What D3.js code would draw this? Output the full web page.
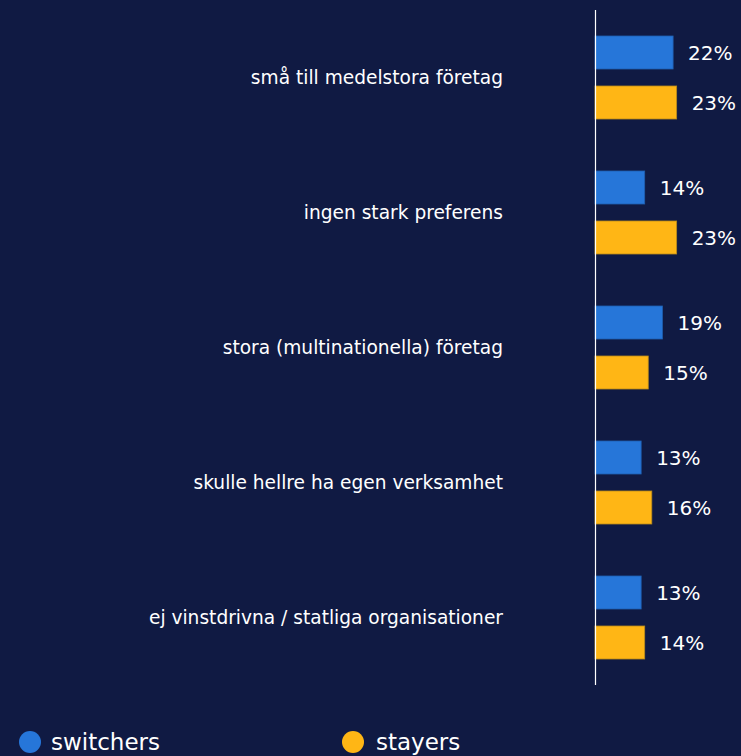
<!DOCTYPE html>
<html>
<head>
<meta charset="utf-8">
<script src="https://cdn.jsdelivr.net/npm/d3@7"></script>
<style>
  html, body { margin: 0; padding: 0; background: #101a43; }
  svg { display: block; }
</style>
</head>
<body>
<div id="chart"></div>
<script>
const categories = [
  'små till medelstora företag',
  'ingen stark preferens',
  'stora (multinationella) företag',
  'skulle hellre ha egen verksamhet',
  'ej vinstdrivna / statliga organisationer'
];
const series = ['switchers', 'stayers'];
const switchers = [22, 14, 19, 13, 13];
const stayers = [23, 23, 15, 16, 14];

const colors = { switchers: '#2676d9', stayers: '#ffb615' };
const strokes = { switchers: '#1f5fb0', stayers: '#b98a1a' };

const width = 741;
const height = 756;
const fontFamily = 'Tahoma, "DejaVu Sans", Verdana, sans-serif';

const rows = categories.map((name, i) => ({
  name,
  values: [
    { key: 'switchers', value: switchers[i] },
    { key: 'stayers', value: stayers[i] }
  ]
}));

const svg = d3.select('#chart')
  .append('svg')
  .attr('width', width)
  .attr('height', height);

svg.append('rect')
  .attr('width', width)
  .attr('height', height)
  .attr('fill', '#101a43');

const axisX = 595;

const x = d3.scaleLinear()
  .domain([0, 10])
  .range([axisX, axisX + 35.5]);

const y0 = d3.scaleBand()
  .domain(categories)
  .range([10, 685]);

const y1 = d3.scaleBand()
  .domain(series)
  .range([26, 109])
  .paddingInner(0.34);

const group = svg.selectAll('g.row')
  .data(rows)
  .enter()
  .append('g')
  .attr('class', 'row')
  .attr('transform', d => `translate(0,${y0(d.name)})`);

group.selectAll('rect')
  .data(d => d.values)
  .enter()
  .append('rect')
  .attr('x', x(0))
  .attr('y', d => y1(d.key))
  .attr('width', d => x(d.value) - x(0))
  .attr('height', y1.bandwidth())
  .attr('fill', d => colors[d.key])
  .attr('stroke', d => strokes[d.key])
  .attr('stroke-width', 0.8);

group.selectAll('text.value')
  .data(d => d.values)
  .enter()
  .append('text')
  .attr('class', 'value')
  .attr('x', d => x(d.value) + 15)
  .attr('y', d => y1(d.key) + y1.bandwidth() / 2)
  .attr('dy', '0.36em')
  .attr('fill', '#ffffff')
  .style('font-family', fontFamily)
  .style('font-size', '20px')
  .text(d => `${d.value}%`);

group.append('text')
  .attr('class', 'label')
  .attr('x', 503)
  .attr('y', y0.bandwidth() / 2)
  .attr('dy', '0.36em')
  .attr('text-anchor', 'end')
  .attr('fill', '#ffffff')
  .style('font-family', fontFamily)
  .style('font-size', '18.6px')
  .text(d => d.name);

// axis line
svg.append('line')
  .attr('x1', axisX + 0.5)
  .attr('x2', axisX + 0.5)
  .attr('y1', 10)
  .attr('y2', 685)
  .attr('stroke', '#ffffff')
  .attr('stroke-width', 1.2);

// legend
const legendX = [30, 353];
const legend = svg.append('g')
  .selectAll('g')
  .data(series)
  .enter()
  .append('g')
  .attr('transform', (d, i) => `translate(${legendX[i]},742)`);

legend.append('circle')
  .attr('r', 11)
  .attr('fill', d => colors[d]);

legend.append('text')
  .attr('x', (d, i) => [21, 23][i])
  .attr('y', 0)
  .attr('dy', '0.36em')
  .attr('fill', '#ffffff')
  .style('font-family', fontFamily)
  .style('font-size', '23px')
  .text(d => d);
</script>
</body>
</html>
